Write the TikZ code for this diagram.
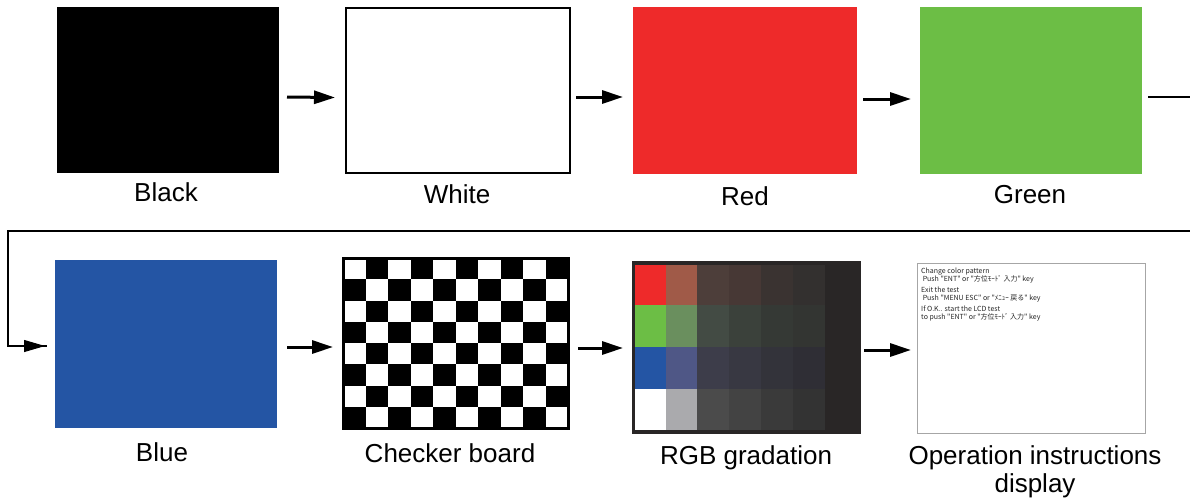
\documentclass[tikz,border=0pt]{standalone}
\usepackage{fontspec}
\setmainfont{Liberation Sans}
\newfontfamily\cjk{Noto Sans CJK JP}
\usetikzlibrary{arrows.meta,calc}
\definecolor{cred}{HTML}{EE2A2A}
\definecolor{cgreen}{HTML}{6CBE45}
\definecolor{cblue}{HTML}{2455A4}
\definecolor{gdark}{HTML}{292626}
\definecolor{r2}{HTML}{A05A48}\definecolor{r3}{HTML}{4D3E3A}\definecolor{r4}{HTML}{473835}\definecolor{r5}{HTML}{3A3331}\definecolor{r6}{HTML}{33302F}
\definecolor{g2}{HTML}{6A8F5E}\definecolor{g3}{HTML}{434B44}\definecolor{g4}{HTML}{3B413B}\definecolor{g5}{HTML}{353935}\definecolor{g6}{HTML}{333532}
\definecolor{b2}{HTML}{4F5786}\definecolor{b3}{HTML}{3D3D4A}\definecolor{b4}{HTML}{383842}\definecolor{b5}{HTML}{33333A}\definecolor{b6}{HTML}{2F2E35}
\definecolor{w1}{HTML}{FFFFFF}\definecolor{w2}{HTML}{AAAAAD}\definecolor{w3}{HTML}{4B4B4B}\definecolor{w4}{HTML}{434343}\definecolor{w5}{HTML}{3A3A3A}\definecolor{w6}{HTML}{333333}
\tikzset{
  screen/.style={draw=none, inner sep=0pt, outer sep=0pt},
  lbl/.style={font=\fontsize{26}{30}\selectfont, anchor=base, align=center},
  arr/.style={line width=3pt, -{Triangle[length=21pt,width=13pt]}},
  link/.style={line width=1.5pt},
}
\begin{document}
\begin{tikzpicture}[x=1pt,y=-1pt]
\useasboundingbox (0,0) rectangle (1190,499);
\clip (0,0) rectangle (1190,499);
% top row
\node[screen, fill=black, minimum width=222pt, minimum height=166pt] (black) at (168,90) {};
\node[screen, draw=black, line width=2.5pt, fill=white, minimum width=224pt, minimum height=165pt] (white) at (458,90.5) {};
\node[screen, fill=cred, minimum width=224pt, minimum height=167pt] (red) at (745,90.5) {};
\node[screen, fill=cgreen, minimum width=222pt, minimum height=167pt] (green) at (1031,90.5) {};
% bottom row
\node[screen, fill=cblue, minimum width=222pt, minimum height=168pt] (blue) at (166,344) {};
\node[screen, minimum width=225pt, minimum height=170pt] (checker) at (455.5,343) {};
\node[screen, minimum width=226pt, minimum height=170pt] (rgb) at (746,347) {};
\node[screen, draw=gray!70, line width=0.8pt, fill=white, minimum width=228pt, minimum height=170pt] (ops) at (1031,348) {};
% checker board
\begin{scope}
\fill[white] (343,258) rectangle (568,428);
\foreach \i in {0,...,9}{
  \foreach \j in {0,...,7}{
    \pgfmathparse{int(mod(\i+\j,2))}
    \ifnum\pgfmathresult=1
      \fill[black] ({343+\i*22.5},{258+\j*21.25}) rectangle ({343+(\i+1)*22.5},{258+(\j+1)*21.25});
    \fi
  }
}
\draw[black, line width=3pt] (checker.north west) rectangle (checker.south east);
\end{scope}
% RGB gradation
\fill[gdark] (rgb.north west) rectangle (rgb.south east);
\def\cx{{635,666,697,729,761,793,825}}
\def\ry{{265,305,347,389,430}}
\foreach \row/\cols in {0/{cred,r2,r3,r4,r5,r6},1/{cgreen,g2,g3,g4,g5,g6},2/{cblue,b2,b3,b4,b5,b6},3/{w1,w2,w3,w4,w5,w6}}{
  \foreach \c [count=\k from 0] in \cols {
    \pgfmathsetmacro{\xa}{\cx[\k]}
    \pgfmathsetmacro{\xb}{\cx[\k+1]}
    \pgfmathsetmacro{\ya}{\ry[\row]}
    \pgfmathsetmacro{\yb}{\ry[\row+1]}
    \fill[\c] (\xa,\ya) rectangle (\xb,\yb);
  }
}
\draw[gdark, line width=3pt] (rgb.north west) rectangle (rgb.south east);
% operation instructions text
\node[anchor=north west, inner sep=0pt, align=left, text=black!85, font=\cjk\fontsize{7}{8}\selectfont] (opstext) at (921,267.5)
{Change color pattern\\
\ Push "ENT" or "方位ﾓｰﾄﾞ 入力" key\\[3pt]
Exit the test\\
\ Push "MENU ESC" or "ﾒﾆｭｰ 戻る" key\\[3pt]
If O.K.. start the LCD test\\
to push "ENT" or "方位ﾓｰﾄﾞ 入力" key};
% labels
\node[lbl] (lblack) at (166,201) {Black};
\node[lbl] (lwhite) at (457,203) {White};
\node[lbl] (lred) at (745,205) {Red};
\node[lbl] (lgreen) at (1030,203) {Green};
\node[lbl] (lblue) at (162,461) {Blue};
\node[lbl] (lchecker) at (450,462) {Checker board};
\node[lbl] (lrgb) at (746,464) {RGB gradation};
\node[lbl] (lops1) at (1035,464) {Operation instructions};
\node[lbl] (lops2) at (1035,492) {display};
% arrows
\draw[arr] ([shift={(8,7)}]black.east) -- ([shift={(-11,7)}]white.west);
\draw[arr] ([shift={(6,6.5)}]white.east) -- ([shift={(-10,6.5)}]red.west);
\draw[arr] ([shift={(6,8.5)}]red.east) -- ([shift={(-9,8.5)}]green.west);
\draw[arr] ([shift={(10,3)}]blue.east) -- ([shift={(-10,4)}]checker.west);
\draw[arr] ([shift={(10,5)}]checker.east) -- ([shift={(-10,1)}]rgb.west);
\draw[arr] ([shift={(5,3)}]rgb.east) -- ([shift={(-6,2)}]ops.west);
% return connector
\coordinate (c1) at (1196,97);
\coordinate (c2) at (1196,231);
\coordinate (c3) at (8,231);
\coordinate (c4) at (8,346);
\draw[link] ([shift={(6,6.5)}]green.east) -- (c1) -- (c2) -- (c3) -- (c4)
  -- ([xshift=-8pt]c4 -| blue.west);
\draw[line width=1pt, -{Triangle[length=21pt,width=12pt]}] ([xshift=-30pt]c4 -| blue.west) -- ([xshift=-10pt]c4 -| blue.west);
\end{tikzpicture}
\end{document}
